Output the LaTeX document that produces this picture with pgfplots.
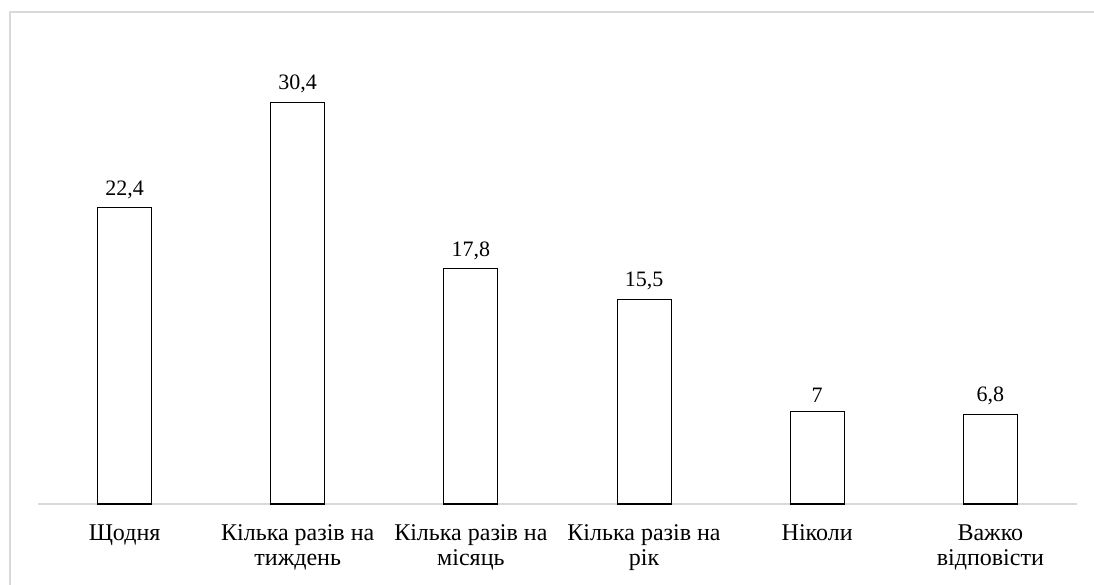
\documentclass[border=0pt]{standalone}
\usepackage{fontspec}
\setmainfont{Liberation Serif}
\usepackage{pgfplots}
\pgfplotsset{compat=1.18}
\definecolor{framegray}{HTML}{D9D9D9}
\begin{document}
\begin{tikzpicture}[x=1pt,y=1pt]
\useasboundingbox (0,0) rectangle (1094,585);
\draw[framegray, line width=2.2pt] (10,-5) -- (10,573) -- (1100,573);
\begin{axis}[
  at={(38pt,81pt)}, anchor=south west,
  scale only axis, width=1039pt, height=462.7pt,
  xmin=-0.5, xmax=5.5, ymin=0, ymax=35,
  axis y line=none,
  axis x line*=bottom,
  x axis line style={framegray, line width=1.2pt, -},
  xtick={0,1,2,3,4,5},
  xticklabels={Щодня, {Кілька разів на\\тиждень}, {Кілька разів на\\місяць}, {Кілька разів на\\рік}, Ніколи, {Важко\\відповісти}},
  major tick length=0pt,
  xticklabel style={align=center, font=\fontsize{24}{25.5}\selectfont, text=black, yshift=-17pt},
  ybar, bar width=54pt,
  point meta=explicit symbolic,
  nodes near coords,
  every node near coord/.append style={font=\fontsize{22}{25}\selectfont, text=black, yshift=5pt},
  clip=false,
]
\addplot[draw=black, fill=white, line width=1.1pt] coordinates {
  (0,22.4) [22,4]
  (1,30.4) [30,4]
  (2,17.8) [17,8]
  (3,15.5) [15,5]
  (4,7) [7]
  (5,6.8) [6,8]
};
\end{axis}
\end{tikzpicture}
\end{document}
